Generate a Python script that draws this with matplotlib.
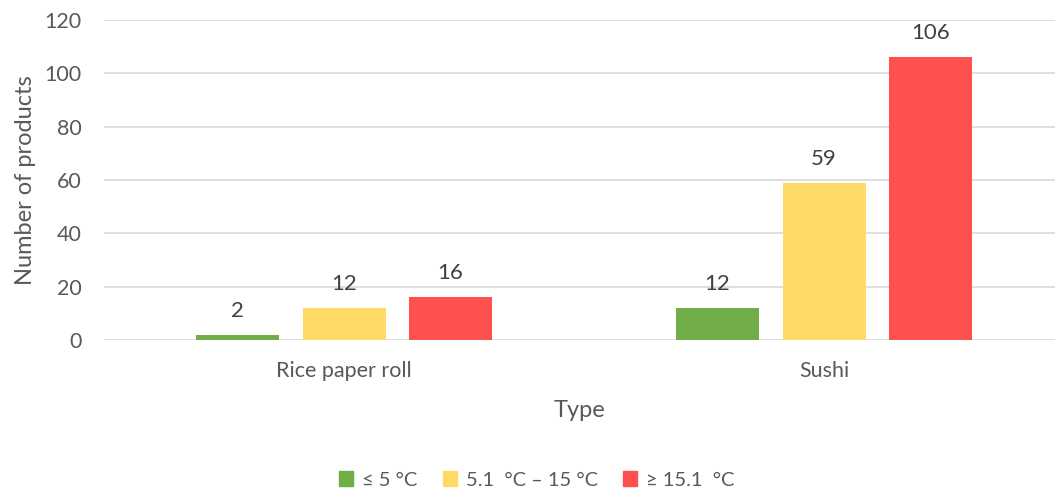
import numpy as np
import matplotlib.pyplot as plt
from matplotlib.patches import Patch

plt.rcParams['font.family'] = ['Lato', 'DejaVu Sans']

types = ['Rice paper roll', 'Sushi']
series = ['≤ 5 °C', '5.1  °C – 15 °C', '≥ 15.1  °C']
low = [2, 12]
mid = [12, 59]
high = [16, 106]
colors = ['#70AD47', '#FFD966', '#FF5050']

fig = plt.figure(figsize=(10.55, 4.9), dpi=100)
ax = fig.add_axes([104 / 1055, 1 - 340 / 490, 1 - 104 / 1055, 320 / 490])

x = np.arange(len(types))
w = 0.173
step = 0.222
for i, (vals, c) in enumerate(zip([low, mid, high], colors)):
    bars = ax.bar(x + (i - 1) * step, vals, w, color=c, zorder=3)
    ax.bar_label(bars, padding=10, fontsize=16, color='#404040')

ax.set_xlim(-0.5, 1.481)
ax.set_ylim(0, 120)
ax.set_yticks(range(0, 121, 20))
ax.yaxis.grid(True, color='#D9D9D9', linewidth=1.2)
ax.set_axisbelow(True)
for s in ax.spines.values():
    s.set_visible(False)
ax.set_xticks(x)
ax.set_xticklabels(types)
ax.tick_params(axis='both', length=0, labelsize=15.5, labelcolor='#595959')
ax.tick_params(axis='y', pad=16)
ax.tick_params(axis='x', pad=15)
ax.set_ylabel('Number of products', fontsize=17, color='#595959', labelpad=6)
ax.set_xlabel('Type', fontsize=17, color='#595959', labelpad=14)

handles = [Patch(color=c) for c in colors]
fig.legend(handles, series, loc='center', bbox_to_anchor=(537 / 1055, 1 - 480 / 490),
           ncol=3, frameon=False, fontsize=14.5, labelcolor='#595959',
           handlelength=0.7, handleheight=0.7, handletextpad=0.45, columnspacing=1.25)

fig.savefig('out.png', dpi=100)
